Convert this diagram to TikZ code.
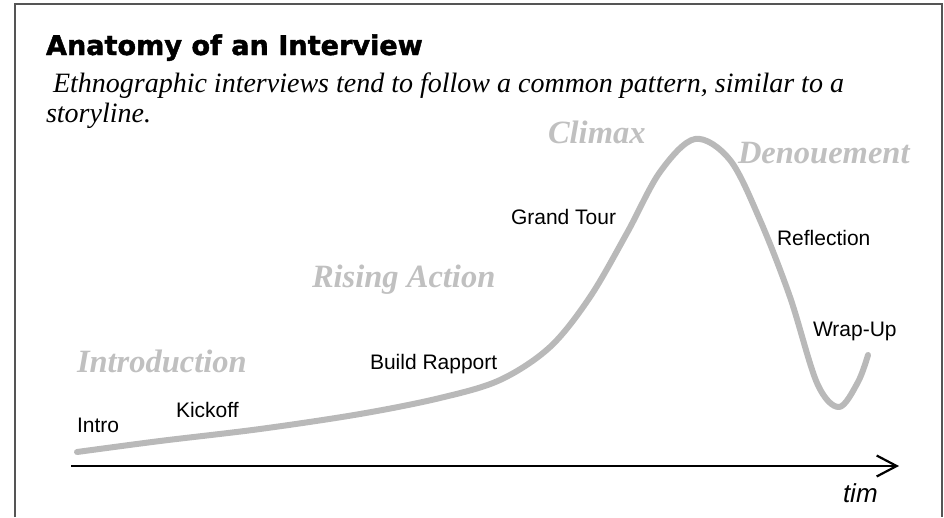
\documentclass[tikz,border=0pt]{standalone}
\usepackage{fontspec}
\setmainfont{Liberation Serif}
\setsansfont{Liberation Sans}
\newfontfamily\titlefont{DejaVu Sans}[BoldFeatures={FakeBold=1.6}]
\usetikzlibrary{arrows.meta}
\definecolor{labgray}{RGB}{192,192,192}
\definecolor{curvegray}{RGB}{185,185,185}
\definecolor{framegray}{RGB}{85,85,85}
\tikzset{
  txt/.style={anchor=base west, inner sep=0pt, outer sep=0pt},
  titletxt/.style={txt, font=\titlefont\bfseries\fontsize{27.1}{30}\selectfont},
  subtxt/.style={txt, font=\rmfamily\itshape\fontsize{28}{32}\selectfont},
  phase/.style={txt, text=labgray, font=\rmfamily\bfseries\itshape\fontsize{32.5}{36}\selectfont},
  steplabel/.style={txt, font=\sffamily\fontsize{21}{25}\selectfont},
  axislabel/.style={txt, font=\sffamily\itshape\fontsize{26}{30}\selectfont},
  framestyle/.style={draw=framegray, line width=2pt},
  axisstyle/.style={draw=black, line width=2.8pt, -{Straight Barb[length=20pt,width=21pt,line width=2.2pt]}},
  curvestyle/.style={draw=curvegray, line width=6pt, line cap=round, line join=round}
}
\begin{document}
\begin{tikzpicture}[x=1pt,y=-1pt]
\useasboundingbox (0,0) rectangle (944,517);
% frame (open at bottom)
\draw[framestyle] (15,517) -- (15,4) -- (942,4) -- (942,517);
% title and subtitle
\node[titletxt] (title) at (46,55) {Anatomy of an Interview};
\node[subtxt] (sub1) at (46,92) {\ Ethnographic interviews tend to follow a common pattern, similar to a};
\node[subtxt] (sub2) at (46,122) {storyline.};
% story curve
\draw[curvestyle] plot[smooth, tension=0.55] coordinates {
 (77,452) (160,441) (260,429) (360,414) (440,398) (500,380) (550,347)
 (590,297) (627,233) (660,172) (695,139) (730,160) (760,220) (790,297)
 (817,383) (839,407) (858,382) (868,355)};
% time axis
\coordinate (axstart) at (71,466);
\coordinate (axend) at (899,466);
\draw[axisstyle] (axstart) -- (axend);
\node[axislabel] (tim) at (843,502) {tim};
% phase labels
\node[phase] (climax) at (548,143) {Climax};
\node[phase] (denou) at (738,163) {Denouement};
\node[phase] (rising) at (312,287) {Rising Action};
\node[phase] (introd) at (77,372) {Introduction};
% step labels
\node[steplabel] (grand) at (511,224) {Grand Tour};
\node[steplabel] (reflect) at (777,245) {Reflection};
\node[steplabel] (wrap) at (813,336) {Wrap-Up};
\node[steplabel] (build) at (370,369) {Build Rapport};
\node[steplabel] (kick) at (176,417) {Kickoff};
\node[steplabel] (intro) at (77,432) {Intro};
\end{tikzpicture}
\end{document}
